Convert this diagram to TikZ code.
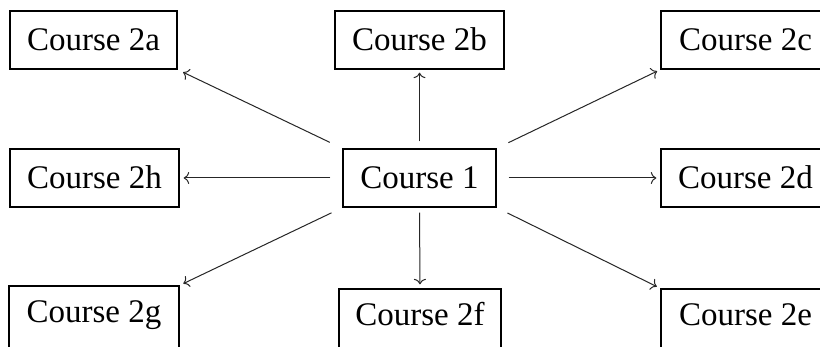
\documentclass[tikz,border=0pt]{standalone}
\usepackage{fontspec}
\setmainfont{Liberation Serif}
\usetikzlibrary{arrows.meta}
\begin{document}
\begin{tikzpicture}[x=1pt,y=-1pt,
  box/.style={draw=black,line width=1.3pt,fill=white,inner xsep=0pt,minimum width=#1,minimum height=58pt,
    font=\fontsize{33}{40}\selectfont,text height=22pt,text depth=0pt},
  box/.default=168pt,
  lowbox/.style={minimum height=64pt,text depth=12pt},
  conn/.style={draw=black!85,line width=1pt,-{To[length=5.5pt,width=12pt]}}]
\clip (0,0) rectangle (820,347);
\fill[white] (0,0) rectangle (820,347);
\node[box=167pt] (a) at (93.5,40) {Course 2a};
\node[box=169pt] (b) at (419.5,40) {Course 2b};
\node[box=169pt] (c) at (745.5,40) {Course 2c};
\node[box=169pt] (h) at (94.5,178) {Course 2h};
\node[box=153pt] (one) at (419.5,178) {Course 1};
\node[box=169pt] (d) at (745.5,178) {Course 2d};
\node[box=170pt,lowbox] (g) at (94,318) {Course 2g};
\node[box=162pt,lowbox] (f) at (420,321) {Course 2f};
\node[box=169pt,lowbox] (e) at (745.5,321) {Course 2e};
\draw[conn,shorten <=14pt,shorten >=6pt] (one.north west) -- (a.south east);
\draw[conn,shorten <=7pt,shorten >=3pt] (one.north) -- (b.south);
\draw[conn,shorten <=13pt,shorten >=3.5pt] (one.north east) -- (c.south west);
\draw[conn,shorten <=12pt,shorten >=4pt] (one.west) -- (h.east);
\draw[conn,shorten <=12pt,shorten >=4pt] (one.east) -- (d.west);
\draw[conn,shorten <=12pt,shorten >=4pt] (one.south west) -- (g.north east);
\draw[conn,shorten <=5pt,shorten >=4pt] (one.south) -- (f.north);
\draw[conn,shorten <=12pt,shorten >=4pt] (one.south east) -- (e.north west);
\end{tikzpicture}
\end{document}
